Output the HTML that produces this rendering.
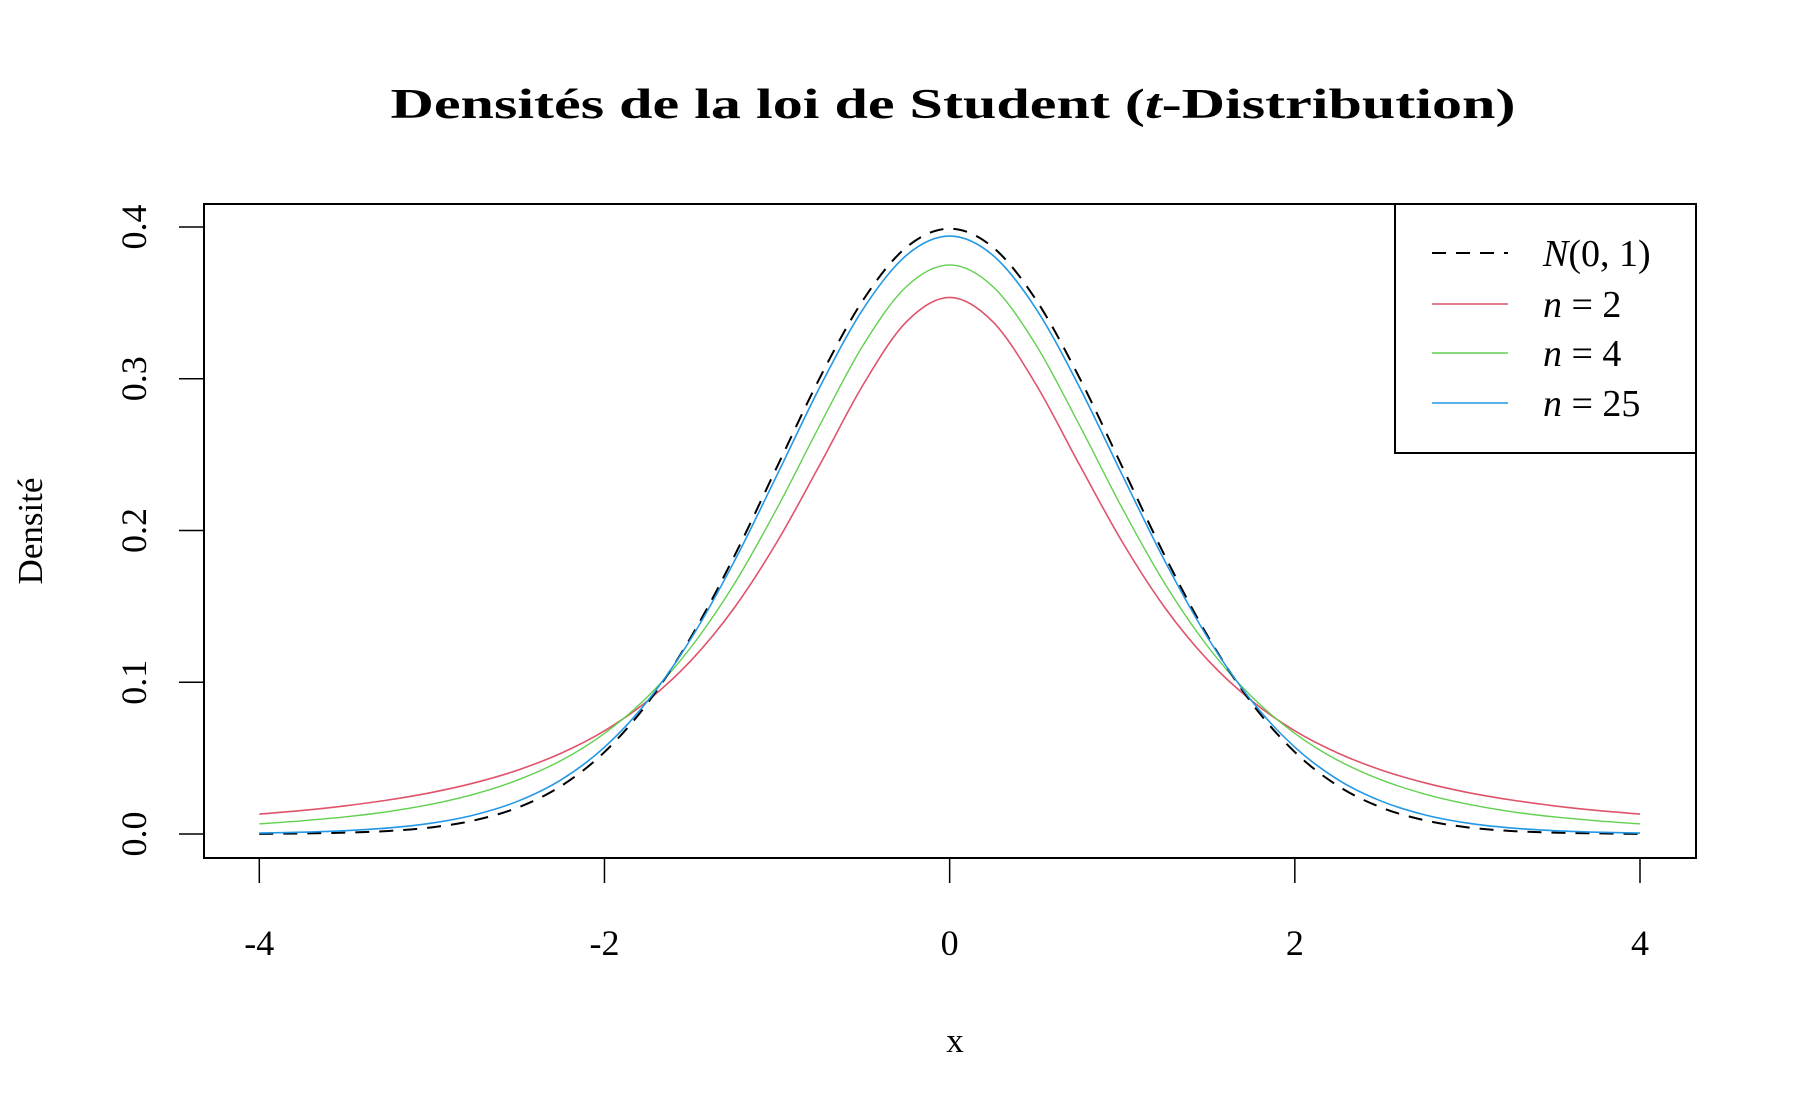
<!DOCTYPE html>
<html><head><meta charset="utf-8"><style>
html,body{margin:0;padding:0;background:#fff;}
svg{display:block;font-family:"Liberation Serif","DejaVu Serif",serif;}
</style></head><body>
<svg id="chart" width="1800" height="1112" viewBox="0 0 1800 1112">
<text x="953" y="118" text-anchor="middle" font-size="42" font-weight="bold" textLength="1125" lengthAdjust="spacingAndGlyphs">Densités de la loi de Student (<tspan font-style="italic">t</tspan>-Distribution)</text>
<rect x="204" y="204" width="1492" height="654" fill="none" stroke="#000" stroke-width="2"/>
<g id="axes"></g>
<g id="series"></g>
<text x="955" y="1052" text-anchor="middle" font-size="35">x</text>
<text transform="translate(42,531) rotate(-90)" text-anchor="middle" font-size="35">Densité</text>
<g>
<rect x="1395" y="204" width="301" height="249" fill="#fff" stroke="#000" stroke-width="2"/>
<line x1="1432" y1="253" x2="1508" y2="253" stroke="#000" stroke-width="2" stroke-dasharray="14,10"/>
<line x1="1432" y1="304" x2="1508" y2="304" stroke="#DF536B" stroke-width="1.6"/>
<line x1="1432" y1="353" x2="1508" y2="353" stroke="#61D04F" stroke-width="1.4"/>
<line x1="1432" y1="403" x2="1508" y2="403" stroke="#2297E6" stroke-width="1.4"/>
<text x="1543" y="266" font-size="38"><tspan font-style="italic">N</tspan>(0, 1)</text>
<text x="1543" y="317" font-size="38"><tspan font-style="italic">n</tspan> = 2</text>
<text x="1543" y="366" font-size="38"><tspan font-style="italic">n</tspan> = 4</text>
<text x="1543" y="416" font-size="38"><tspan font-style="italic">n</tspan> = 25</text>
</g>
</svg>
<script>
const xs = [-4,-3.75,-3.5,-3.25,-3,-2.75,-2.5,-2.25,-2,-1.75,-1.5,-1.25,-1,-0.75,-0.5,-0.25,0,0.25,0.5,0.75,1,1.25,1.5,1.75,2,2.25,2.5,2.75,3,3.25,3.5,3.75,4];
const normalVals = [0.0001,0.0004,0.0009,0.0020,0.0044,0.0091,0.0175,0.0317,0.0540,0.0863,0.1295,0.1826,0.2420,0.3011,0.3521,0.3867,0.3989,0.3867,0.3521,0.3011,0.2420,0.1826,0.1295,0.0863,0.0540,0.0317,0.0175,0.0091,0.0044,0.0020,0.0009,0.0004,0.0001];
const t2Vals = [0.0131,0.0155,0.0186,0.0225,0.0274,0.0338,0.0422,0.0533,0.0680,0.0878,0.1141,0.1487,0.1925,0.2438,0.2963,0.3376,0.3536,0.3376,0.2963,0.2438,0.1925,0.1487,0.1141,0.0878,0.0680,0.0533,0.0422,0.0338,0.0274,0.0225,0.0186,0.0155,0.0131];
const t4Vals = [0.0067,0.0087,0.0113,0.0148,0.0197,0.0264,0.0357,0.0485,0.0663,0.0905,0.1229,0.1644,0.2147,0.2699,0.3223,0.3608,0.3750,0.3608,0.3223,0.2699,0.2147,0.1644,0.1229,0.0905,0.0663,0.0485,0.0357,0.0264,0.0197,0.0148,0.0113,0.0087,0.0067];
const t25Vals = [0.0006,0.0012,0.0022,0.0040,0.0072,0.0127,0.0217,0.0358,0.0572,0.0877,0.1285,0.1792,0.2366,0.2950,0.3462,0.3814,0.3940,0.3814,0.3462,0.2950,0.2366,0.1792,0.1285,0.0877,0.0572,0.0358,0.0217,0.0127,0.0072,0.0040,0.0022,0.0012,0.0006];
const xTicks = [-4,-2,0,2,4];
const xTickLabels = ["-4","-2","0","2","4"];
const yTicks = [0,0.1,0.2,0.3,0.4];
const yTickLabels = ["0.0","0.1","0.2","0.3","0.4"];

const NS = "http://www.w3.org/2000/svg";
function sx(v){ return 259.3 + (v + 4) * (1640 - 259.3) / 8; }
function sy(v){ return 834 - v * (834 - 227) / 0.4; }

const axes = document.getElementById('axes');
xTicks.forEach((t,i)=>{
  const l = document.createElementNS(NS,'line');
  l.setAttribute('x1',sx(t)); l.setAttribute('x2',sx(t));
  l.setAttribute('y1',858); l.setAttribute('y2',883);
  l.setAttribute('stroke','#000'); l.setAttribute('stroke-width','1.5');
  
  
  axes.appendChild(l);
  const tx = document.createElementNS(NS,'text');
  tx.setAttribute('x',sx(t)); tx.setAttribute('y',955);
  tx.setAttribute('text-anchor','middle'); tx.setAttribute('font-size','36');
  tx.textContent = xTickLabels[i];
  
  
  axes.appendChild(tx);
});
yTicks.forEach((t,i)=>{
  const l = document.createElementNS(NS,'line');
  l.setAttribute('x1',179); l.setAttribute('x2',204);
  l.setAttribute('y1',sy(t)); l.setAttribute('y2',sy(t));
  l.setAttribute('stroke','#000'); l.setAttribute('stroke-width','1.5');
  
  
  axes.appendChild(l);
  const tx = document.createElementNS(NS,'text');
  tx.setAttribute('transform','translate(146,'+sy(t)+') rotate(-90)');
  tx.setAttribute('text-anchor','middle'); tx.setAttribute('font-size','36');
  tx.textContent = yTickLabels[i];
  
  
  axes.appendChild(tx);
});

function pathFor(vals){
  const p = xs.map((x,i)=>[sx(x), sy(vals[i])]);
  let d = 'M'+p[0][0]+','+p[0][1];
  for(let i=0;i<p.length-1;i++){
    const p0=p[Math.max(0,i-1)], p1=p[i], p2=p[i+1], p3=p[Math.min(p.length-1,i+2)];
    const c1x=p1[0]+(p2[0]-p0[0])/6, c1y=p1[1]+(p2[1]-p0[1])/6;
    const c2x=p2[0]-(p3[0]-p1[0])/6, c2y=p2[1]-(p3[1]-p1[1])/6;
    d += ' C'+c1x+','+c1y+' '+c2x+','+c2y+' '+p2[0]+','+p2[1];
  }
  return d;
}
const series = document.getElementById('series');
const defs = [
  [t2Vals,'#DF536B','1.6',null,'series-n2'],
  [t4Vals,'#61D04F','1.4',null,'series-n4'],
  [normalVals,'#000','2','14,10','series-normal'],
  [t25Vals,'#2297E6','1.6',null,'series-n25']
];
defs.forEach(s=>{
  const path = document.createElementNS(NS,'path');
  path.setAttribute('d', pathFor(s[0]));
  path.setAttribute('fill','none');
  path.setAttribute('stroke', s[1]);
  path.setAttribute('stroke-width', s[2]);
  if(s[3]) path.setAttribute('stroke-dasharray', s[3]);
  
  
  series.appendChild(path);
});
</script>
</body></html>
